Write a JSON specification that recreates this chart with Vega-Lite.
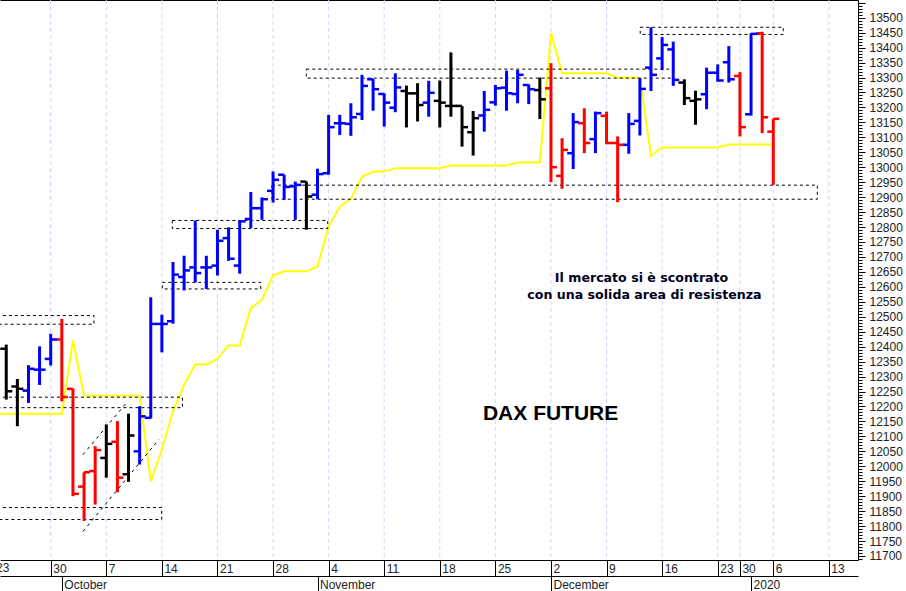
{
  "$schema": "https://vega.github.io/schema/vega-lite/v6.json",
  "width": 858,
  "height": 560,
  "autosize": {"type": "none"},
  "padding": {"left": 0, "top": 0, "right": 48, "bottom": 31},
  "background": "white",
  "config": {"view": {"stroke": null}, "font": "Liberation Sans"},
  "datasets": {
    "weeks": [
      {"day": -5}, {"day": 0}, {"day": 5}, {"day": 10}, {"day": 15}, {"day": 20}, {"day": 25}, {"day": 30}, {"day": 35},
      {"day": 40}, {"day": 45}, {"day": 50}, {"day": 55}, {"day": 57}, {"day": 60}, {"day": 65}
    ],
    "bars": [
      {"day": -9, "o": 12393, "h": 12407, "l": 12223, "c": 12251, "dir": "flat"},
      {"day": -8, "o": 12267, "h": 12292, "l": 12134, "c": 12259, "dir": "flat"},
      {"day": -7, "o": 12253, "h": 12338, "l": 12212, "c": 12326, "dir": "up"},
      {"day": -6, "o": 12323, "h": 12401, "l": 12272, "c": 12323, "dir": "up"},
      {"day": -5, "o": 12359, "h": 12443, "l": 12337, "c": 12424, "dir": "up"},
      {"day": -4, "o": 12424, "h": 12493, "l": 12217, "c": 12232, "dir": "down"},
      {"day": -3, "o": 12259, "h": 12260, "l": 11900, "c": 11908, "dir": "down"},
      {"day": -2, "o": 11932, "h": 11980, "l": 11817, "c": 11980, "dir": "down"},
      {"day": -1, "o": 11984, "h": 12067, "l": 11872, "c": 12054, "dir": "down"},
      {"day": 0, "o": 12028, "h": 12140, "l": 11962, "c": 12075, "dir": "flat"},
      {"day": 1, "o": 12082, "h": 12151, "l": 11913, "c": 11962, "dir": "down"},
      {"day": 2, "o": 11973, "h": 12176, "l": 11948, "c": 12103, "dir": "flat"},
      {"day": 3, "o": 12050, "h": 12201, "l": 12006, "c": 12167, "dir": "up"},
      {"day": 4, "o": 12162, "h": 12565, "l": 12160, "c": 12476, "dir": "up"},
      {"day": 5, "o": 12476, "h": 12507, "l": 12381, "c": 12476, "dir": "up"},
      {"day": 6, "o": 12485, "h": 12683, "l": 12477, "c": 12641, "dir": "up"},
      {"day": 7, "o": 12633, "h": 12704, "l": 12588, "c": 12655, "dir": "up"},
      {"day": 8, "o": 12665, "h": 12822, "l": 12615, "c": 12646, "dir": "up"},
      {"day": 9, "o": 12665, "h": 12704, "l": 12593, "c": 12665, "dir": "up"},
      {"day": 10, "o": 12671, "h": 12791, "l": 12638, "c": 12754, "dir": "up"},
      {"day": 11, "o": 12763, "h": 12799, "l": 12687, "c": 12694, "dir": "up"},
      {"day": 12, "o": 12671, "h": 12822, "l": 12644, "c": 12819, "dir": "up"},
      {"day": 13, "o": 12827, "h": 12917, "l": 12797, "c": 12863, "dir": "up"},
      {"day": 14, "o": 12863, "h": 12899, "l": 12824, "c": 12893, "dir": "up"},
      {"day": 15, "o": 12921, "h": 12986, "l": 12882, "c": 12958, "dir": "up"},
      {"day": 16, "o": 12975, "h": 12975, "l": 12891, "c": 12934, "dir": "up"},
      {"day": 17, "o": 12936, "h": 12952, "l": 12824, "c": 12941, "dir": "up"},
      {"day": 18, "o": 12952, "h": 12952, "l": 12791, "c": 12902, "dir": "flat"},
      {"day": 19, "o": 12908, "h": 12995, "l": 12893, "c": 12977, "dir": "up"},
      {"day": 20, "o": 12980, "h": 13175, "l": 12975, "c": 13134, "dir": "up"},
      {"day": 21, "o": 13147, "h": 13175, "l": 13108, "c": 13147, "dir": "up"},
      {"day": 22, "o": 13145, "h": 13214, "l": 13105, "c": 13167, "dir": "up"},
      {"day": 23, "o": 13178, "h": 13309, "l": 13158, "c": 13272, "dir": "up"},
      {"day": 24, "o": 13294, "h": 13295, "l": 13189, "c": 13261, "dir": "up"},
      {"day": 25, "o": 13245, "h": 13247, "l": 13136, "c": 13216, "dir": "up"},
      {"day": 26, "o": 13199, "h": 13314, "l": 13184, "c": 13267, "dir": "up"},
      {"day": 27, "o": 13255, "h": 13273, "l": 13133, "c": 13247, "dir": "flat"},
      {"day": 28, "o": 13247, "h": 13281, "l": 13153, "c": 13208, "dir": "flat"},
      {"day": 29, "o": 13216, "h": 13289, "l": 13169, "c": 13249, "dir": "up"},
      {"day": 30, "o": 13222, "h": 13290, "l": 13133, "c": 13216, "dir": "flat"},
      {"day": 31, "o": 13205, "h": 13384, "l": 13169, "c": 13205, "dir": "flat"},
      {"day": 32, "o": 13205, "h": 13205, "l": 13069, "c": 13134, "dir": "flat"},
      {"day": 33, "o": 13117, "h": 13188, "l": 13039, "c": 13164, "dir": "flat"},
      {"day": 34, "o": 13173, "h": 13255, "l": 13119, "c": 13192, "dir": "up"},
      {"day": 35, "o": 13217, "h": 13275, "l": 13206, "c": 13264, "dir": "up"},
      {"day": 36, "o": 13266, "h": 13323, "l": 13189, "c": 13247, "dir": "up"},
      {"day": 37, "o": 13245, "h": 13325, "l": 13214, "c": 13309, "dir": "up"},
      {"day": 38, "o": 13275, "h": 13277, "l": 13211, "c": 13261, "dir": "up"},
      {"day": 39, "o": 13258, "h": 13300, "l": 13161, "c": 13227, "dir": "flat"},
      {"day": 40, "o": 13264, "h": 13348, "l": 12950, "c": 13000, "dir": "down"},
      {"day": 41, "o": 12971, "h": 13097, "l": 12928, "c": 13058, "dir": "down"},
      {"day": 42, "o": 13047, "h": 13181, "l": 12994, "c": 13151, "dir": "up"},
      {"day": 43, "o": 13147, "h": 13197, "l": 13047, "c": 13081, "dir": "down"},
      {"day": 44, "o": 13094, "h": 13186, "l": 13047, "c": 13181, "dir": "up"},
      {"day": 45, "o": 13172, "h": 13186, "l": 13077, "c": 13081, "dir": "down"},
      {"day": 46, "o": 13081, "h": 13103, "l": 12883, "c": 13075, "dir": "down"},
      {"day": 47, "o": 13075, "h": 13181, "l": 13045, "c": 13145, "dir": "up"},
      {"day": 48, "o": 13155, "h": 13298, "l": 13106, "c": 13262, "dir": "up"},
      {"day": 49, "o": 13333, "h": 13468, "l": 13255, "c": 13309, "dir": "up"},
      {"day": 50, "o": 13364, "h": 13435, "l": 13325, "c": 13409, "dir": "up"},
      {"day": 51, "o": 13394, "h": 13420, "l": 13272, "c": 13292, "dir": "up"},
      {"day": 52, "o": 13283, "h": 13294, "l": 13208, "c": 13231, "dir": "flat"},
      {"day": 53, "o": 13222, "h": 13256, "l": 13142, "c": 13227, "dir": "flat"},
      {"day": 54, "o": 13244, "h": 13333, "l": 13194, "c": 13316, "dir": "up"},
      {"day": 55, "o": 13316, "h": 13344, "l": 13286, "c": 13290, "dir": "up"},
      {"day": 56, "o": 13351, "h": 13405, "l": 13283, "c": 13294, "dir": "up"},
      {"day": 57, "o": 13305, "h": 13318, "l": 13103, "c": 13134, "dir": "down"},
      {"day": 58, "o": 13177, "h": 13448, "l": 13173, "c": 13446, "dir": "up"},
      {"day": 59, "o": 13448, "h": 13453, "l": 13114, "c": 13167, "dir": "down"},
      {"day": 60, "o": 13119, "h": 13162, "l": 12941, "c": 13162, "dir": "down"}
    ],
    "signal": [
      {"day": -10, "v": 12176}, {"day": -4, "v": 12176}, {"day": -3, "v": 12421},
      {"day": -2, "v": 12236}, {"day": 3, "v": 12236}, {"day": 4, "v": 11950},
      {"day": 5, "v": 12056}, {"day": 6, "v": 12184}, {"day": 7, "v": 12273},
      {"day": 8, "v": 12340}, {"day": 9, "v": 12340}, {"day": 10, "v": 12360},
      {"day": 11, "v": 12404}, {"day": 12, "v": 12404}, {"day": 13, "v": 12529},
      {"day": 14, "v": 12557}, {"day": 15, "v": 12638}, {"day": 16, "v": 12652},
      {"day": 18, "v": 12652}, {"day": 19, "v": 12668}, {"day": 20, "v": 12802},
      {"day": 21, "v": 12868}, {"day": 22, "v": 12894}, {"day": 23, "v": 12968},
      {"day": 24, "v": 12986}, {"day": 25, "v": 12986}, {"day": 26, "v": 12997},
      {"day": 30, "v": 12997}, {"day": 31, "v": 13006}, {"day": 36, "v": 13006},
      {"day": 37, "v": 13016}, {"day": 39, "v": 13016}, {"day": 40, "v": 13448},
      {"day": 41, "v": 13314}, {"day": 45, "v": 13314}, {"day": 46, "v": 13299},
      {"day": 48, "v": 13299}, {"day": 49, "v": 13039}, {"day": 50, "v": 13066},
      {"day": 55, "v": 13066}, {"day": 56, "v": 13076}, {"day": 60, "v": 13076}
    ],
    "zones": [
      {"from": -12, "to": -1.11, "top": 12504, "bottom": 12475},
      {"from": -12, "to": 6.85, "top": 12231, "bottom": 12196},
      {"from": -12, "to": 4.98, "top": 11862, "bottom": 11822},
      {"from": 5.04, "to": 13.89, "top": 12615, "bottom": 12593},
      {"from": 5.94, "to": 19.92, "top": 12822, "bottom": 12795},
      {"from": 14.9, "to": 63.96, "top": 12940, "bottom": 12893},
      {"from": 17.99, "to": 50.98, "top": 13328, "bottom": 13298},
      {"from": 48.03, "to": 60.9, "top": 13468, "bottom": 13444}
    ],
    "channel": [
      {"side": "upper", "day": -2.1, "v": 12039},
      {"side": "upper", "day": 1.77, "v": 12210},
      {"side": "lower", "day": -2.1, "v": 11782},
      {"side": "lower", "day": 4.74, "v": 12090}
    ],
    "notes": [
      {"day": 39.97, "v": 12176, "text": "DAX FUTURE", "kind": "title"},
      {"day": 48.15, "v": 12631, "text": "Il mercato si è scontrato", "kind": "note"},
      {"day": 48.41, "v": 12574, "text": "con una solida area di resistenza", "kind": "note"},
      {"day": -9.92, "v": 11660, "text": "23", "kind": "axis"}
    ]
  },
  "resolve": {"axis": {"x": "independent", "y": "independent"}, "scale": {"x": "shared", "y": "shared"}},
  "layer": [
    {
      "data": {"name": "weeks"},
      "mark": {"type": "rule", "color": "#d4d4fa", "strokeWidth": 1, "strokeDash": [4, 3]},
      "encoding": {
        "x": {
          "field": "day",
          "type": "quantitative",
          "scale": {"domain": [-9.562, 67.62], "nice": false, "zero": false},
          "axis": null
        }
      }
    },
    {
      "data": {"name": "signal"},
      "mark": {"type": "line", "color": "#ffff00", "strokeWidth": 2, "clip": true},
      "encoding": {
        "x": {
          "field": "day",
          "type": "quantitative",
          "scale": {"domain": [-9.562, 67.62], "nice": false, "zero": false},
          "axis": {
            "orient": "bottom",
            "offset": 16,
            "title": null,
            "values": [-4, 19, 40, 58],
            "labelExpr": "({'-4': 'October', '19': 'November', '40': 'December', '58': '2020'})[datum.value]",
            "grid": false,
            "tickSize": 15,
            "tickColor": "black",
            "domainColor": "black",
            "labelColor": "#222222",
            "labelFont": "Liberation Sans",
            "labelFontSize": 12,
            "labelAlign": "left",
            "labelBaseline": "middle",
            "labelPadding": -7,
            "labelOffset": 2,
            "labelOverlap": false,
            "labelBound": false,
            "labelFlush": false
          }
        },
        "y": {
          "field": "v",
          "type": "quantitative",
          "scale": {"domain": [11686.6, 13559.2], "nice": false, "zero": false},
          "axis": null
        }
      }
    },
    {
      "data": {"name": "zones"},
      "mark": {"type": "rect", "fill": null, "stroke": "black", "strokeWidth": 1, "strokeDash": [3, 3], "clip": true},
      "encoding": {
        "x": {
          "field": "from",
          "type": "quantitative",
          "scale": {"domain": [-9.562, 67.62], "nice": false, "zero": false},
          "axis": {
            "orient": "bottom",
            "title": null,
            "values": [-5, 0, 5, 10, 15, 20, 25, 30, 35, 40, 45, 50, 55, 57, 60, 65],
            "labelExpr": "({'-5': '30', '0': '7', '5': '14', '10': '21', '15': '28', '20': '4', '25': '11', '30': '18', '35': '25', '40': '2', '45': '9', '50': '16', '55': '23', '57': '30', '60': '6', '65': '13'})[datum.value]",
            "grid": false,
            "tickSize": 16,
            "tickColor": "black",
            "domainColor": "black",
            "labelColor": "#222222",
            "labelFont": "Liberation Sans",
            "labelFontSize": 12,
            "labelAlign": "left",
            "labelBaseline": "middle",
            "labelPadding": -8,
            "labelOffset": 2,
            "labelOverlap": false,
            "labelBound": false,
            "labelFlush": false
          }
        },
        "x2": {"field": "to"},
        "y": {
          "field": "top",
          "type": "quantitative",
          "scale": {"domain": [11686.6, 13559.2], "nice": false, "zero": false},
          "axis": {
            "orient": "right",
            "title": null,
            "grid": false,
            "tickCount": 187,
            "tickSize": {"expr": "datum.value % 50 === 0 ? 7 : 4"},
            "tickColor": "black",
            "domainColor": "black",
            "labelExpr": "datum.value % 50 === 0 && datum.value <= 13500 ? datum.value : ''",
            "labelColor": "#222222",
            "labelFont": "Liberation Sans",
            "labelFontSize": 12,
            "labelAlign": "left",
            "labelBaseline": "middle",
            "labelPadding": 4,
            "labelOverlap": false,
            "labelBound": false,
            "labelFlush": false
          }
        },
        "y2": {"field": "bottom"}
      }
    },
    {
      "data": {"name": "channel"},
      "mark": {"type": "line", "color": "black", "strokeWidth": 1, "strokeDash": [3, 4]},
      "encoding": {
        "x": {"field": "day", "type": "quantitative", "axis": null},
        "y": {"field": "v", "type": "quantitative", "axis": null},
        "detail": {"field": "side"}
      }
    },
    {
      "data": {"name": "bars"},
      "mark": {"type": "rule", "strokeWidth": 3},
      "encoding": {
        "x": {"field": "day", "type": "quantitative", "axis": null},
        "y": {"field": "l", "type": "quantitative", "axis": null},
        "y2": {"field": "h"},
        "color": {
          "field": "dir",
          "type": "nominal",
          "scale": {"domain": ["up", "down", "flat"], "range": ["#0000ff", "#ff0000", "#000000"]},
          "legend": null
        }
      }
    },
    {
      "data": {"name": "bars"},
      "mark": {"type": "tick", "orient": "horizontal", "size": 6, "thickness": 2.5, "xOffset": -3, "opacity": 1},
      "encoding": {
        "x": {"field": "day", "type": "quantitative", "axis": null},
        "y": {"field": "o", "type": "quantitative", "axis": null},
        "color": {"field": "dir", "type": "nominal", "legend": null}
      }
    },
    {
      "data": {"name": "bars"},
      "mark": {"type": "tick", "orient": "horizontal", "size": 6, "thickness": 2.5, "xOffset": 3, "opacity": 1},
      "encoding": {
        "x": {"field": "day", "type": "quantitative", "axis": null},
        "y": {"field": "c", "type": "quantitative", "axis": null},
        "color": {"field": "dir", "type": "nominal", "legend": null}
      }
    },
    {
      "data": {"name": "notes"},
      "transform": [{"filter": "datum.kind === 'note'"}],
      "mark": {"type": "text", "font": "DejaVu Sans", "fontWeight": "bold", "fontSize": 12.6, "color": "#000020", "align": "center", "baseline": "middle"},
      "encoding": {
        "x": {"field": "day", "type": "quantitative", "axis": null},
        "y": {"field": "v", "type": "quantitative", "axis": null},
        "text": {"field": "text"}
      }
    },
    {
      "data": {"name": "notes"},
      "transform": [{"filter": "datum.kind === 'axis'"}],
      "mark": {"type": "text", "font": "Liberation Sans", "fontSize": 12, "color": "#222222", "align": "left", "baseline": "middle"},
      "encoding": {
        "x": {"field": "day", "type": "quantitative", "axis": null},
        "y": {"field": "v", "type": "quantitative", "axis": null},
        "text": {"field": "text"}
      }
    },
    {
      "data": {"name": "notes"},
      "transform": [{"filter": "datum.kind === 'title'"}],
      "mark": {"type": "text", "font": "Liberation Sans", "fontWeight": "bold", "fontSize": 21, "color": "black", "align": "center", "baseline": "middle"},
      "encoding": {
        "x": {
          "field": "day",
          "type": "quantitative",
          "axis": {"orient": "top", "title": null, "labels": false, "ticks": false, "grid": false, "domainColor": "black"}
        },
        "y": {"field": "v", "type": "quantitative", "axis": null},
        "text": {"field": "text"}
      }
    }
  ]
}
